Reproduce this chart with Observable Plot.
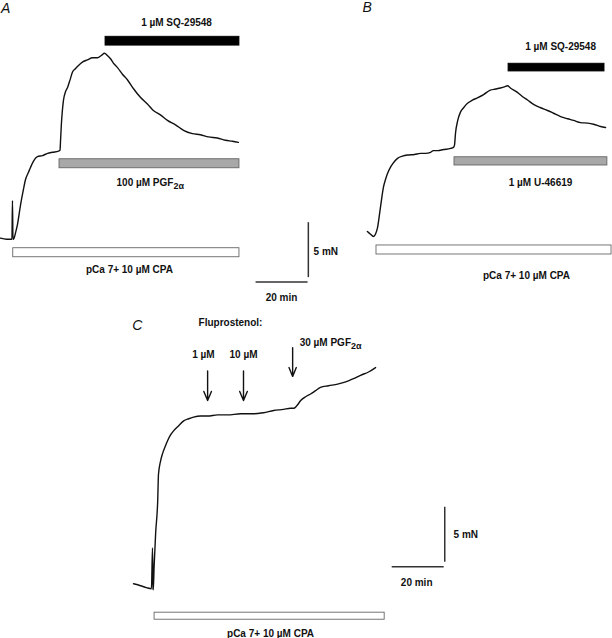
<!DOCTYPE html>
<html><head><meta charset="utf-8">
<script src="https://cdn.jsdelivr.net/npm/d3@7"></script>
<script src="https://cdn.jsdelivr.net/npm/@observablehq/plot@0.6"></script>
<style>
body{margin:0;background:#fff}
#fig{position:relative;width:612px;height:638px;overflow:hidden;background:#fff}
#fig>svg{position:absolute}
</style>
</head><body><div id="fig"></div>
<script>
// ---------- DATA (time in min from CPA application, force in mN above baseline) ----------
// Panel A
const aTime  = [-4.6,-2.3,-0.2,0,0.2,0.4,1.2,1.9,3.1,4.2,5.0,6.2,6.9,8.1,9.6,11.5,13.5,15.4,17.7,18.3,18.5,18.8,19.2,19.6,20.4,21.2,22.3,23.1,24.2,25.4,26.9,28.8,30.8,32.7,34.2,35.4,36.5,37.7,39.2,40.4,42.3,44.2,46.5,49.2,51.9,54.2,56.9,59.6,62.7,65.8,69.2,72.3,75.4,78.8,81.9,84.6,86.9];
const aForce = [0.1,0,0,3.5,0,0,0.6,1.3,3.1,4.5,5.4,6.1,6.5,7.1,7.5,7.6,7.8,7.9,8.0,8.1,9.0,10.4,11.7,12.6,13.4,13.8,14.6,15.2,15.5,15.8,16.1,16.3,16.5,16.5,16.7,16.9,16.7,16.4,15.9,15.6,15.0,14.5,13.7,12.9,12.3,11.7,11.3,10.8,10.4,9.9,9.6,9.5,9.3,9.2,9.0,8.9,8.8];
const aBarLabels = ["1 µM SQ-29548", "100 µM PGF2α", "pCa 7+ 10 µM CPA"];
const aBarKinds  = ["antagonist", "agonist", "cpa"];
const aBarStart  = [35.8, 18.1, 0.3];
const aBarEnd    = [87.3, 87.3, 87.3];

// Panel B
const bTime  = [-3.5,-2.3,-1.2,-0.4,0.4,1.5,2.7,3.5,4.2,5.4,6.2,8.1,10.0,11.9,14.6,16.9,18.8,20.8,21.9,23.5,25.8,28.5,29.6,30.0,30.4,31.2,32.3,33.5,35.0,36.9,38.8,41.2,43.8,45.8,47.7,49.2,50.4,51.5,54.2,56.2,58.1,60.4,63.1,65.8,68.1,70.8,73.5,75.8,78.5,81.2,83.5,86.2,88.1];
const bForce = [0.45,0.2,0,0.2,0.8,2.6,4.5,5.2,5.7,6.3,6.6,7.1,7.3,7.4,7.45,7.55,7.55,7.65,7.8,7.8,7.9,8.0,8.1,8.3,9.4,10.5,11.3,11.7,12.1,12.4,12.6,12.9,13.3,13.4,13.5,13.6,13.7,13.5,13.1,12.7,12.4,12.0,11.7,11.45,11.2,10.9,10.7,10.55,10.35,10.3,10.2,10.0,9.9];
const bBarLabels = ["1 µM SQ-29548", "1 µM U-46619", "pCa 7+ 10 µM CPA"];
const bBarKinds  = ["antagonist", "agonist", "cpa"];
const bBarStart  = [50.8, 30.0, 0];
const bBarEnd    = [87.7, 88.8, 90.4];

// Panel C
const cTime  = [-8.1,-5.4,-3.1,-1.2,-0.8,-0.6,-0.5,-0.2,0.4,1.2,1.5,2.3,3.1,4.2,5.0,6.2,7.3,9.2,11.2,13.1,15.0,17.7,20.4,24.2,28.1,33.1,38.1,41.9,45.8,49.6,52.3,53.5,54.6,56.2,58.1,60.0,61.9,63.8,66.9,70.4,73.5,76.5,79.2,82.3,85.0];
const cForce = [0.45,0.27,0.1,0,3.7,0,-0.1,1.9,5.0,8.0,10.4,11.6,12.3,13.0,13.45,14.0,14.35,14.8,15.25,15.45,15.6,15.7,15.7,15.8,15.8,15.9,15.9,16.0,16.2,16.3,16.4,16.4,16.6,17.1,17.45,17.7,18.0,18.3,18.45,18.6,18.8,19.1,19.4,19.7,20.1];
const cBarLabels = ["pCa 7+ 10 µM CPA"];
const cBarKinds  = ["cpa"];
const cBarStart  = [0];
const cBarEnd    = [88.5];
const cArrowLabels = ["1 µM", "10 µM", "30 µM PGF2α"];
const cArrowTimes  = [20.4, 34.2, 53.1];
const cTitle = "Fluprostenol:";

// Scale bars
const scaleMinutes = 20;
const scaleMN = 5;

// ---------- LAYOUT / STYLE ----------
const PX_PER_MIN = 2.6, PX_PER_MN = 11;
const FONT = "'Liberation Sans', Arial, Helvetica, sans-serif";
const BAR_STYLE = {
  antagonist: {fill: "#000", stroke: "#000"},
  agonist: {fill: "#a8a8a8", stroke: "#666"},
  cpa: {fill: "#fff", stroke: "#666"}
};

function zipBars(labels, kinds, starts, ends) {
  return labels.map((label, i) => ({label, kind: kinds[i], start: starts[i], end: ends[i]}));
}
function zipTrace(t, f) { return t.map((time, i) => ({time, force: f[i]})); }

function barMarks(bars, lanes) {
  return [
    Plot.rect(bars, {
      x1: "start", x2: "end",
      y1: d => lanes[d.kind].lo, y2: d => lanes[d.kind].hi,
      fill: d => BAR_STYLE[d.kind].fill, stroke: d => BAR_STYLE[d.kind].stroke, strokeWidth: 0.9
    }),
    Plot.text(bars, {
      x: d => lanes[d.kind].labelT, y: d => lanes[d.kind].labelF, text: "label",
      fontSize: 10, fontWeight: "bold", fill: "#111"
    })
  ];
}

function scaleBarMarks(sb) {
  return [
    Plot.link([sb], {x1: d => d.t, x2: d => d.t + scaleMinutes, y1: d => d.f, y2: d => d.f, stroke: "#333", strokeWidth: 1.5}),
    Plot.link([sb], {x1: d => d.t + scaleMinutes + sb.gapT, x2: d => d.t + scaleMinutes + sb.gapT,
                     y1: d => d.f + sb.gapF, y2: d => d.f + sb.gapF + scaleMN, stroke: "#333", strokeWidth: 1.5}),
    Plot.text([`${scaleMN} mN`], {x: sb.t + sb.mnT, y: sb.f + sb.mnF, text: d => d, textAnchor: "start", fontSize: 10, fontWeight: "bold", fill: "#111"}),
    Plot.text([`${scaleMinutes} min`], {x: sb.t + sb.minT, y: sb.f + sb.minF, text: d => d, fontSize: 10, fontWeight: "bold", fill: "#111"})
  ];
}

function letter(ch, t, f) {
  return Plot.text([ch], {x: t, y: f, text: d => d, textAnchor: "start", fontSize: 14, fontStyle: "italic", fill: "#111"});
}

function trace(t, f) {
  return Plot.line(zipTrace(t, f), {x: "time", y: "force", stroke: "#111", strokeWidth: 1.4, curve: "monotone-x"});
}

function panel({width, height, tLeft, fTop, marks}) {
  return Plot.plot({
    width, height, margin: 0,
    x: {domain: [tLeft, tLeft + width / PX_PER_MIN], axis: null},
    y: {domain: [fTop - height / PX_PER_MN, fTop], axis: null},
    style: {background: "transparent", fontFamily: FONT, overflow: "visible"},
    marks
  });
}

function subscriptFix(svg) {
  svg.querySelectorAll("text").forEach(el => {
    const s = el.textContent;
    if (s.endsWith("2α")) {
      el.textContent = s.slice(0, -2);
      const ts = document.createElementNS("http://www.w3.org/2000/svg", "tspan");
      ts.setAttribute("dy", "3");
      ts.setAttribute("font-size", "9");
      ts.textContent = "2α";
      el.appendChild(ts);
    }
  });
  return svg;
}

const fig = document.getElementById("fig");
function place(svg, left, top) { svg.style.left = left + "px"; svg.style.top = top + "px"; fig.appendChild(subscriptFix(svg)); }

// Panel A
const A = panel({
  width: 350, height: 312, tLeft: -4.6, fTop: 21.7,
  marks: [
    letter("A", -4.4, 21.0),
    trace(aTime, aForce),
    ...barMarks(zipBars(aBarLabels, aBarKinds, aBarStart, aBarEnd), {
      antagonist: {lo: 17.6, hi: 18.4, labelT: 63.1, labelF: 19.7},
      agonist: {lo: 6.45, hi: 7.27, labelT: 53.0, labelF: 5.1},
      cpa: {lo: -1.64, hi: -0.82, labelT: 45.0, labelF: -2.8}
    }),
    ...scaleBarMarks({t: 93.5, f: -3.9, gapT: 0.3, gapF: 0.45, mnT: 22.3, mnF: 2.8, minT: 10, minF: -1.46})
  ]
});
place(A, 0, 0);

// Panel B
const B = panel({
  width: 252, height: 312, tLeft: -6.15, fTop: 21.45,
  marks: [
    letter("B", -5.4, 20.8),
    trace(bTime, bForce),
    ...barMarks(zipBars(bBarLabels, bBarKinds, bBarStart, bBarEnd), {
      antagonist: {lo: 15.0, hi: 15.7, labelT: 70.8, labelF: 17.2},
      agonist: {lo: 6.45, hi: 7.2, labelT: 63.1, labelF: 4.9},
      cpa: {lo: -1.64, hi: -0.82, labelT: 57.7, labelF: -3.6}
    })
  ]
});
place(B, 360, 0);

// Panel C
const arrowTop = [19.8, 19.8, 21.9], arrowBottom = [17.1, 17.1, 19.3];
const arrowLabelT = [18.8, 34.2, 67.7], arrowLabelF = [21.3, 21.3, 22.4];
const cArrows = cArrowLabels.map((label, i) => ({label, time: cArrowTimes[i], i}));
const C = panel({
  width: 400, height: 338, tLeft: -20.8, fTop: 26.2,
  marks: [
    letter("C", -8.6, 23.9),
    Plot.text([cTitle], {x: 29.2, y: 24.2, text: d => d, fontSize: 10, fontWeight: "bold", fill: "#111"}),
    Plot.arrow(cArrows, {x1: "time", x2: "time", y1: d => arrowTop[d.i], y2: d => arrowBottom[d.i],
                         stroke: "#111", strokeWidth: 1.4, headLength: 11, headAngle: 45}),
    Plot.text(cArrows, {x: d => arrowLabelT[d.i], y: d => arrowLabelF[d.i], text: "label", fontSize: 10, fontWeight: "bold", fill: "#111"}),
    trace(cTime, cForce),
    ...barMarks(zipBars(cBarLabels, cBarKinds, cBarStart, cBarEnd), {
      cpa: {lo: -2.82, hi: -2.18, labelT: 44.6, labelF: -4.1}
    }),
    ...scaleBarMarks({t: 91.2, f: 2.0, gapT: 0.4, gapF: 0.45, mnT: 23.8, mnF: 2.9, minT: 9.6, minF: -1.45})
  ]
});
place(C, 100, 300);
</script>
</body></html>
